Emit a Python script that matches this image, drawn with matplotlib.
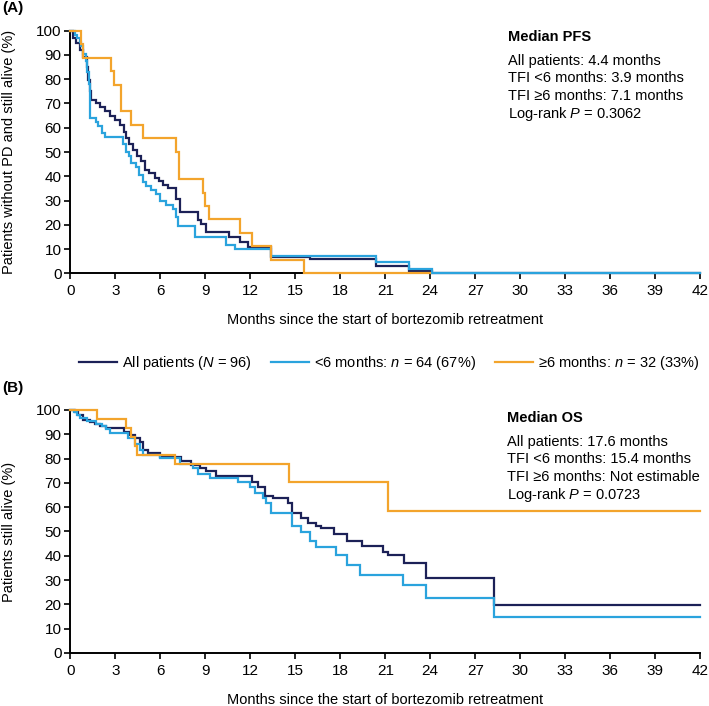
import matplotlib
matplotlib.use("Agg")
import matplotlib.pyplot as plt
from matplotlib.lines import Line2D

plt.rcParams['font.family'] = ['Liberation Sans', 'DejaVu Sans']
plt.rcParams['mathtext.fontset'] = 'custom'
plt.rcParams['mathtext.rm'] = 'Liberation Sans'
plt.rcParams['mathtext.it'] = 'Liberation Sans:italic'

NAVY = '#1c2157'
LBLUE = '#2aa3dd'
ORANGE = '#f3a42c'

# ---- PFS (panel A): step times (months) and % without PD and alive
pfs_all_t = [0, 0.18, 0.4, 0.62, 0.84, 1.07, 1.18, 1.29, 1.4, 1.73, 1.96, 2.29, 2.62, 2.96,
             3.29, 3.56, 3.69, 3.91, 4.18, 4.44, 4.73, 4.96, 5.24, 5.62, 5.91, 6.18, 6.51,
             7.07, 7.29, 8.51, 8.73, 9.07, 10.6, 11.29, 11.84, 13.36, 16.0, 20.4, 22.6, 24.1]
pfs_all_s = [100, 96.9, 94.8, 92.0, 89.0, 85.0, 79.7, 75.3, 71.5, 70.1, 68.5, 66.7, 64.9, 63.2,
             61.2, 58.4, 55.7, 53.2, 50.9, 48.2, 46.1, 42.7, 41.3, 39.2, 37.9, 36.5, 35.1,
             30.6, 25.4, 22.1, 20.4, 17.0, 14.9, 12.7, 10.8, 6.8, 5.8, 3.0, 1.1, 0]

pfs_lt6_t = [0, 0.29, 0.44, 0.62, 0.73, 0.84, 1.02, 1.13, 1.24, 1.33, 1.73, 1.84, 2.07, 2.29,
             3.51, 3.73, 3.89, 4.07, 4.4, 4.58, 4.84, 5.07, 5.4, 5.73, 5.96, 6.4, 6.84, 7.07,
             7.18, 8.29, 10.4, 11.0, 13.36, 20.4, 22.6, 24.1]
pfs_lt6_s = [100, 98.4, 96.9, 95.3, 93.8, 90.6, 87.5, 82.8, 78.1, 64.1, 62.5, 60.9, 57.8, 56.3,
             53.1, 50.0, 48.4, 45.3, 43.8, 40.6, 37.5, 35.9, 34.4, 32.8, 29.7, 28.1, 26.6, 23.4,
             19.5, 14.8, 11.7, 9.9, 7.2, 4.7, 1.7, 0]

pfs_ge6_t = [0, 0.69, 0.84, 2.69, 2.91, 3.36, 4.02, 4.84, 7.07, 7.22, 8.84, 9.0, 9.22, 11.29,
             12.1, 13.36, 15.6]
pfs_ge6_s = [100, 94.4, 88.9, 83.3, 77.8, 66.7, 61.1, 55.6, 50.0, 38.9, 33.3, 27.8, 22.2, 16.7,
             11.1, 5.6, 0]

# ---- OS (panel B)
os_all_t = [0, 0.29, 0.51, 0.84, 1.29, 1.62, 1.96, 2.4, 3.56, 3.96, 4.29, 4.62, 4.84, 5.18,
            5.96, 7.4, 8.07, 8.62, 9.07, 9.73, 12.1, 12.52, 12.97, 13.52, 14.52, 14.75, 15.41,
            15.86, 16.37, 16.74, 17.6, 18.45, 19.48, 20.86, 21.19, 22.26, 23.7, 28.24]
os_all_s = [100, 99.0, 97.9, 96.0, 95.2, 94.4, 93.4, 92.6, 91.0, 89.7, 88.4, 87.0, 83.6, 82.2,
            80.5, 78.8, 77.4, 76.0, 74.7, 72.9, 70.5, 68.4, 64.6, 63.9, 61.9, 57.8, 55.7,
            53.4, 52.4, 51.3, 49.0, 46.2, 44.2, 41.7, 40.3, 37.2, 30.7, 19.8]

os_lt6_t = [0, 0.22, 0.44, 0.62, 1.11, 1.73, 2.07, 2.4, 2.62, 3.84, 4.29, 4.62, 4.84, 5.96,
            7.29, 8.18, 8.51, 9.29, 11.2, 11.97, 12.3, 12.86, 13.03, 13.41, 14.75, 15.41, 15.97,
            16.37, 17.74, 18.46, 19.34, 22.19, 23.7, 28.24]
os_lt6_s = [100, 99.0, 97.9, 96.6, 95.3, 94.4, 93.3, 92.0, 90.6, 88.4, 86.1, 83.6, 81.5, 80.1,
            77.8, 76.2, 73.8, 72.2, 70.5, 68.4, 66.0, 63.6, 61.6, 57.5, 52.3, 49.6, 46.2,
            43.8, 40.3, 36.2, 32.1, 28.0, 22.5, 15.0]

os_ge6_t = [0, 1.78, 3.69, 4.02, 4.3, 4.47, 6.96, 14.6, 21.2]
os_ge6_s = [100, 96.3, 92.6, 88.9, 85.2, 81.5, 77.8, 70.4, 58.6]

# last follow-up time drawn for each curve
pfs_end = [42, 42, 24.0]
os_end = [42, 42, 42]

labels = ['All patients ($N$ = 96)', '<6 months: $n$ = 64 (67%)', '\u22656 months: $n$ = 32 (33%)']
colors = [NAVY, LBLUE, ORANGE]

xticks = list(range(0, 43, 3))
yticks = list(range(0, 101, 10))


def km(ax, t, s, end, color):
    ax.step(t + [end], s + [s[-1]], where='post', color=color, lw=1.6,
            clip_on=False, zorder=3, solid_joinstyle='miter')


def style(ax, ylabel):
    ax.set_xlim(0, 42)
    ax.set_ylim(0, 100)
    ax.set_xticks(xticks)
    ax.set_yticks(yticks)
    for sp in ['top', 'right']:
        ax.spines[sp].set_visible(False)
    for sp in ['left', 'bottom']:
        ax.spines[sp].set_linewidth(1.4)
        ax.spines[sp].set_color('black')
    ax.tick_params(axis='both', direction='out', length=4, width=1.2, labelsize=11,
                   pad=2.5, color='black')
    ax.tick_params(axis='x', pad=4)
    ax.set_xlabel('Months since the start of bortezomib retreatment', fontsize=10.5,
                  labelpad=10.5)
    ax.set_ylabel(ylabel, fontsize=10.5)
    ax.yaxis.set_label_coords(-0.086, 0.5)


fig = plt.figure(figsize=(7.09, 7.06), dpi=100)
axA = fig.add_axes([0.0994, 0.6129, 0.888, 0.3436])
axB = fig.add_axes([0.0994, 0.0751, 0.888, 0.3442])

for t, s, e, c in zip([pfs_all_t, pfs_lt6_t, pfs_ge6_t], [pfs_all_s, pfs_lt6_s, pfs_ge6_s],
                      pfs_end, colors):
    km(axA, t, s, e, c)
for t, s, e, c in zip([os_all_t, os_lt6_t, os_ge6_t], [os_all_s, os_lt6_s, os_ge6_s],
                      os_end, colors):
    km(axB, t, s, e, c)

style(axA, 'Patients without PD and still alive (%)')
style(axB, 'Patients still alive (%)')

fig.text(0.003, 0.988, '(A)', fontsize=11, fontweight='bold', va='center')
fig.text(0.003, 0.4504, '(B)', fontsize=11, fontweight='bold', va='center')

pfs_text = ['All patients: 4.4 months', 'TFI <6 months: 3.9 months',
            'TFI \u22656 months: 7.1 months', 'Log-rank $P$ = 0.3062']
os_text = ['All patients: 17.6 months', 'TFI <6 months: 15.4 months',
           'TFI \u22656 months: Not estimable', 'Log-rank $P$ = 0.0723']

fig.text(0.7165, 0.9472, 'Median PFS', fontsize=10.5, fontweight='bold', va='center')
for i, line in enumerate(pfs_text):
    fig.text(0.7165, 0.914 - i * 0.02495, line, fontsize=10.5, va='center')

fig.text(0.7147, 0.4075, 'Median OS', fontsize=10.5, fontweight='bold', va='center')
for i, line in enumerate(os_text):
    fig.text(0.7147, 0.3744 - i * 0.02515, line, fontsize=10.5, va='center')

handles = [Line2D([], [], color=c, lw=1.6) for c in colors]
fig.legend(handles, labels, loc='center', bbox_to_anchor=(0.549, 0.4863), ncol=3,
           frameon=False, fontsize=10.5, handlelength=2.6, handletextpad=0.35,
           columnspacing=1.3, borderpad=0, borderaxespad=0)

fig.savefig('out.png', dpi=100)
